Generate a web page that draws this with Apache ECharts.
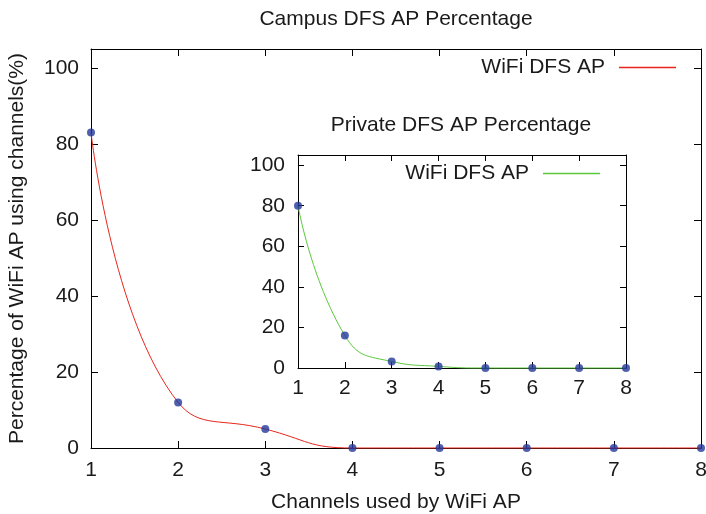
<!DOCTYPE html>
<html><head><meta charset="utf-8">
<script src="https://cdn.jsdelivr.net/npm/echarts@6/dist/echarts.min.js"></script>
<style>html,body{margin:0;padding:0;background:#fff}#c{width:706px;height:514px}</style>
</head><body><div id="c"></div>
<script>
const channels = [1, 2, 3, 4, 5, 6, 7, 8];
const campusPct = [83, 12, 5, 0, 0, 0, 0, 0];
const privatePct = [80, 16, 3.2, 0.8, 0, 0, 0, 0];
const mainTitle = 'Campus DFS AP Percentage';
const insetTitle = 'Private DFS AP Percentage';
const legendLabel = 'WiFi DFS AP';
const xName = 'Channels used by WiFi AP';
const yName = 'Percentage of WiFi AP using channels(%)';

const FONT = "'Liberation Sans', Arial, sans-serif";
const TXT = '#1a1a1a';
const FS = 21;
const pairs = arr => channels.map((c, i) => [c, arr[i]]);

function xAx(grid, pos, showLabel, tickLen, margin, extra) {
  return Object.assign({
    type: 'value', gridIndex: grid, position: pos, min: 1, max: 8, interval: 1,
    axisLine: {show: true, onZero: false, lineStyle: {color: '#000', width: 1}},
    axisTick: {show: true, inside: true, length: tickLen, lineStyle: {color: '#000'}},
    splitLine: {show: false},
    axisLabel: {show: showLabel, color: TXT, fontSize: FS, fontFamily: FONT, margin: margin}
  }, extra || {});
}
function yAx(grid, pos, showLabel, tickLen, margin, extra) {
  return Object.assign({
    type: 'value', gridIndex: grid, position: pos, min: 0, max: 105, interval: 20,
    axisLine: {show: true, onZero: false, lineStyle: {color: '#000', width: 1}},
    axisTick: {show: true, inside: true, length: tickLen, lineStyle: {color: '#000'}},
    splitLine: {show: false},
    axisLabel: {show: showLabel, color: TXT, fontSize: FS, fontFamily: FONT, margin: margin,
      formatter: v => (v % 20 === 0 ? String(v) : '')}
  }, extra || {});
}

const chart = echarts.init(document.getElementById('c'), null, {renderer: 'canvas'});
chart.setOption({
  animation: false,
  backgroundColor: '#fff',
  textStyle: {fontFamily: FONT},
  title: [
    {text: mainTitle, left: 396, top: 9, padding: 0, textAlign: 'center',
     textStyle: {fontSize: FS, fontWeight: 'normal', color: TXT, fontFamily: FONT}},
    {text: insetTitle, left: 461, top: 115, padding: 0, textAlign: 'center',
     textStyle: {fontSize: FS, fontWeight: 'normal', color: TXT, fontFamily: FONT}}
  ],
  legend: [
    {data: [{name: 'Campus', icon: 'rect'}], right: 30, top: 57, padding: 0, align: 'right',
     itemWidth: 57, itemHeight: 1.3,
     formatter: () => legendLabel,
     textStyle: {fontSize: FS, color: TXT, fontFamily: FONT, padding: [0, 9, 0, 0]}},
    {data: [{name: 'Private', icon: 'rect'}], right: 106, top: 163, padding: 0, align: 'right',
     itemWidth: 57, itemHeight: 1.3,
     formatter: () => legendLabel,
     textStyle: {fontSize: FS, color: TXT, fontFamily: FONT, padding: [0, 9, 0, 0]}}
  ],
  grid: [
    {left: 91, right: 5, top: 49, bottom: 66, containLabel: false, outerBoundsMode: 'none'},
    {left: 298, right: 80, top: 155, bottom: 146, containLabel: false, outerBoundsMode: 'none'}
  ],
  xAxis: [
    xAx(0, 'bottom', true, 7, 12, {name: xName, nameLocation: 'middle', nameGap: 44,
      nameTextStyle: {fontSize: FS, color: TXT, fontFamily: FONT}}),
    xAx(0, 'top', false, 7, 12),
    xAx(1, 'bottom', true, 6, 10),
    xAx(1, 'top', false, 6, 10)
  ],
  yAxis: [
    yAx(0, 'left', true, 7, 12, {name: yName, nameLocation: 'middle', nameGap: 63, nameRotate: 90,
      nameTextStyle: {fontSize: FS, color: TXT, fontFamily: FONT}}),
    yAx(0, 'right', false, 7, 12),
    yAx(1, 'left', true, 6, 13),
    yAx(1, 'right', false, 6, 13)
  ],
  series: [
    {name: 'Campus', type: 'line', xAxisIndex: 0, yAxisIndex: 0, data: pairs(campusPct),
     smooth: true, symbol: 'none', clip: false, color: '#e8261c',
     lineStyle: {color: '#e8261c', width: 1}, z: 3},
    {name: 'CampusPts', type: 'scatter', xAxisIndex: 0, yAxisIndex: 0, data: pairs(campusPct),
     symbolSize: 8, clip: false, itemStyle: {color: '#23389a'}, z: 5},
    {name: 'Private', type: 'line', xAxisIndex: 2, yAxisIndex: 2, data: pairs(privatePct),
     smooth: true, symbol: 'none', clip: false, color: '#5cc83c',
     lineStyle: {color: '#5cc83c', width: 1}, z: 3},
    {name: 'PrivatePts', type: 'scatter', xAxisIndex: 2, yAxisIndex: 2, data: pairs(privatePct),
     symbolSize: 8, clip: false, itemStyle: {color: '#23389a'}, z: 5}
  ]
});
</script></body></html>
